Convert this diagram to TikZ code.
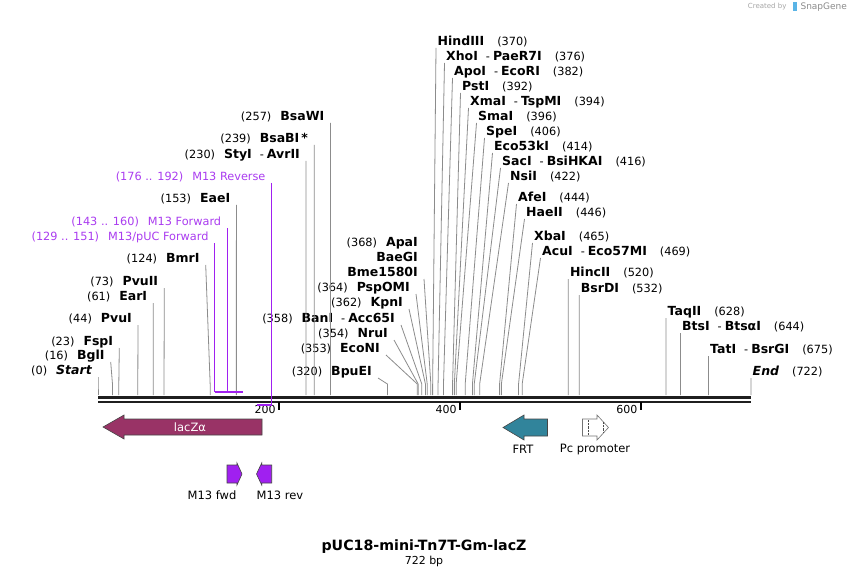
\documentclass[tikz,border=0pt]{standalone}
\usepackage{fontspec}
\setmainfont{DejaVu Sans}

\definecolor{laczFill}{RGB}{153,51,102}
\definecolor{frtFill}{RGB}{49,132,155}
\definecolor{primerFill}{RGB}{160,32,240}
\definecolor{primerText}{RGB}{170,60,240}
\definecolor{cutLine}{RGB}{140,140,140}
\definecolor{featEdge}{RGB}{70,70,70}
\definecolor{logoBlue}{RGB}{90,180,230}

\newcommand{\bpx}[1]{98+#1*0.90443}
\newcommand{\nm}[1]{{\fontsize{12.5}{14}\selectfont\bfseries #1}}
\newcommand{\alsocut}{\hspace{8pt}-\hspace{3pt}}
\newcommand{\lgap}{\hspace{9pt}}
\newcommand{\rgap}{\hspace{13pt}}

\begin{document}
\begin{tikzpicture}[x=1pt, y=-1pt,
  site/.style={font=\fontsize{11.3}{13}\selectfont, text height=9pt, text depth=2pt, inner ysep=0pt},
  lsite/.style={site, anchor=south east, inner xsep=6pt},
  rsite/.style={site, anchor=south west, inner xsep=1.5pt},
  cut/.style={draw=cutLine, line width=0.8pt},
  plab/.style={site, anchor=south east, inner xsep=6pt, text=primerText},
  pline/.style={draw=primerFill, line width=1.5pt},
  feat/.style={draw=featEdge, line width=0.6pt},
  flab/.style={font=\fontsize{11.5}{13}\selectfont},
  tick/.style={line width=2pt},
  scalelbl/.style={font=\fontsize{11}{13}\selectfont, anchor=east, inner sep=1pt}]
\fill[white] (0,0) rectangle (850,577);
\useasboundingbox (0,0) rectangle (850,577);

% backbone and scale
\coordinate (bb0) at ({\bpx{0}},397);
\coordinate (bb1) at ({\bpx{722}},397);
\draw[line width=3pt, black!88] (bb0) -- (bb1);
\draw[line width=2pt, black!88] ([yshift=-4.5pt]bb0) -- ([yshift=-4.5pt]bb1);
\coordinate (t200) at ({\bpx{200}},402);
\coordinate (t400) at ({\bpx{400}},402);
\coordinate (t600) at ({\bpx{600}},402);
\draw[tick] (t200) -- ++(0,8);
\draw[tick] (t400) -- ++(0,8);
\draw[tick] (t600) -- ++(0,8);
\node[scalelbl] (l200) at ([xshift=-2pt,yshift=-7pt]t200) {200};
\node[scalelbl] (l400) at ([xshift=-2pt,yshift=-7pt]t400) {400};
\node[scalelbl] (l600) at ([xshift=-2pt,yshift=-7pt]t600) {600};

% cut sites, labels left of their lines
\node[lsite] (start) at (98,377) {(0)\lgap\nm{\itshape Start}};
\node[lsite] (bgli) at (110.7,362) {(16)\lgap\nm{BglI}};
\node[lsite] (fspi) at (119.3,348) {(23)\lgap\nm{FspI}};
\node[lsite] (pvui) at (138,325) {(44)\lgap\nm{PvuI}};
\node[lsite] (eari) at (153.3,303) {(61)\lgap\nm{EarI}};
\node[lsite] (pvuii) at (164.3,288) {(73)\lgap\nm{PvuII}};
\node[lsite] (bmri) at (205.7,265) {(124)\lgap\nm{BmrI}};
\node[lsite] (eaei) at (236.4,205) {(153)\lgap\nm{EaeI}};
\node[lsite] (styi) at (306,161) {(230)\lgap\nm{StyI}\alsocut\nm{AvrII}};
\node[lsite] (bsabi) at (314.2,145) {(239)\lgap\nm{BsaBI\,*}};
\node[lsite] (bsawi) at (330.4,123) {(257)\lgap\nm{BsaWI}};
\node[lsite] (apai) at (424,249) {(368)\lgap\nm{ApaI}};
\node[lsite] (baegi) at (424,264) {\nm{BaeGI}};
\node[lsite] (bme) at (424,279) {\nm{Bme1580I}};
\node[lsite] (pspomi) at (416,294) {(364)\lgap\nm{PspOMI}};
\node[lsite] (kpni) at (409,309) {(362)\lgap\nm{KpnI}};
\node[lsite] (bani) at (401,325) {(358)\lgap\nm{BanI}\alsocut\nm{Acc65I}};
\node[lsite] (nrui) at (394,340) {(354)\lgap\nm{NruI}};
\node[lsite] (econi) at (386,355) {(353)\lgap\nm{EcoNI}};
\node[lsite] (bpuei) at (378,378) {(320)\lgap\nm{BpuEI}};

% cut sites, labels right of their lines
\node[rsite] (hindiii) at (436,48) {\nm{HindIII}\rgap(370)};
\node[rsite] (xhoi) at (444.5,63) {\nm{XhoI}\alsocut\nm{PaeR7I}\rgap(376)};
\node[rsite] (apoi) at (452.5,78) {\nm{ApoI}\alsocut\nm{EcoRI}\rgap(382)};
\node[rsite] (psti) at (460.5,93) {\nm{PstI}\rgap(392)};
\node[rsite] (xmai) at (468.5,108) {\nm{XmaI}\alsocut\nm{TspMI}\rgap(394)};
\node[rsite] (smai) at (476.5,123) {\nm{SmaI}\rgap(396)};
\node[rsite] (spei) at (484.5,138) {\nm{SpeI}\rgap(406)};
\node[rsite] (eco53ki) at (492.5,153) {\nm{Eco53kI}\rgap(414)};
\node[rsite] (saci) at (500.5,168) {\nm{SacI}\alsocut\nm{BsiHKAI}\rgap(416)};
\node[rsite] (nsii) at (508.5,183) {\nm{NsiI}\rgap(422)};
\node[rsite] (afei) at (516.5,204) {\nm{AfeI}\rgap(444)};
\node[rsite] (haeii) at (524.5,219) {\nm{HaeII}\rgap(446)};
\node[rsite] (xbai) at (532.5,243) {\nm{XbaI}\rgap(465)};
\node[rsite] (acui) at (540.5,258) {\nm{AcuI}\alsocut\nm{Eco57MI}\rgap(469)};
\node[rsite] (hincii) at (568.3,279) {\nm{HincII}\rgap(520)};
\node[rsite] (bsrdi) at (579.2,295) {\nm{BsrDI}\rgap(532)};
\node[rsite] (taqii) at (666,318) {\nm{TaqII}\rgap(628)};
\node[rsite] (btsi) at (680.4,333) {\nm{BtsI}\alsocut\nm{BtsαI}\rgap(644)};
\node[rsite] (tati) at (708.5,356) {\nm{TatI}\alsocut\nm{BsrGI}\rgap(675)};
\node[rsite] (end) at (751,378) {\nm{\itshape End}\rgap(722)};

% site positions on the backbone
\coordinate (s-start) at ({\bpx{0}},395);
\coordinate (s-bgli) at ({\bpx{16}},395);
\coordinate (s-fspi) at ({\bpx{23}},395);
\coordinate (s-pvui) at ({\bpx{44}},395);
\coordinate (s-eari) at ({\bpx{61}},395);
\coordinate (s-pvuii) at ({\bpx{73}},395);
\coordinate (s-bmri) at ({\bpx{124}},395);
\coordinate (s-eaei) at ({\bpx{153}},395);
\coordinate (s-styi) at ({\bpx{230}},395);
\coordinate (s-bsabi) at ({\bpx{239}},395);
\coordinate (s-bsawi) at ({\bpx{257}},395);
\coordinate (s-bpuei) at ({\bpx{320}},395);
\coordinate (s-econi) at ({\bpx{353}},395);
\coordinate (s-nrui) at ({\bpx{354}},395);
\coordinate (s-bani) at ({\bpx{358}},395);
\coordinate (s-kpni) at ({\bpx{362}},395);
\coordinate (s-pspomi) at ({\bpx{364}},395);
\coordinate (s-bme) at ({\bpx{368}},395);
\coordinate (s-hindiii) at ({\bpx{370}},395);
\coordinate (s-xhoi) at ({\bpx{376}},395);
\coordinate (s-apoi) at ({\bpx{382}},395);
\coordinate (s-psti) at ({\bpx{392}},395);
\coordinate (s-xmai) at ({\bpx{394}},395);
\coordinate (s-smai) at ({\bpx{396}},395);
\coordinate (s-spei) at ({\bpx{406}},395);
\coordinate (s-eco53ki) at ({\bpx{414}},395);
\coordinate (s-saci) at ({\bpx{416}},395);
\coordinate (s-nsii) at ({\bpx{422}},395);
\coordinate (s-afei) at ({\bpx{444}},395);
\coordinate (s-haeii) at ({\bpx{446}},395);
\coordinate (s-xbai) at ({\bpx{465}},395);
\coordinate (s-acui) at ({\bpx{469}},395);
\coordinate (s-hincii) at ({\bpx{520}},395);
\coordinate (s-bsrdi) at ({\bpx{532}},395);
\coordinate (s-taqii) at ({\bpx{628}},395);
\coordinate (s-btsi) at ({\bpx{644}},395);
\coordinate (s-tati) at ({\bpx{675}},395);
\coordinate (s-end) at ({\bpx{722}},395);

\draw[cut] (start.south east) -- ([yshift=11pt]s-start) -- (s-start);
\draw[cut] (bgli.south east) -- ([yshift=11pt]s-bgli) -- (s-bgli);
\draw[cut] (fspi.south east) -- ([yshift=11pt]s-fspi) -- (s-fspi);
\draw[cut] (pvui.south east) -- ([yshift=11pt]s-pvui) -- (s-pvui);
\draw[cut] (eari.south east) -- ([yshift=11pt]s-eari) -- (s-eari);
\draw[cut] (pvuii.south east) -- ([yshift=11pt]s-pvuii) -- (s-pvuii);
\draw[cut] (bmri.south east) -- ([yshift=11pt]s-bmri) -- (s-bmri);
\draw[cut] (eaei.south east) -- ([yshift=11pt]s-eaei) -- (s-eaei);
\draw[cut] (styi.south east) -- ([yshift=11pt]s-styi) -- (s-styi);
\draw[cut] (bsabi.south east) -- ([yshift=11pt]s-bsabi) -- (s-bsabi);
\draw[cut] (bsawi.south east) -- ([yshift=11pt]s-bsawi) -- (s-bsawi);
\draw[cut] (bme.south east) -- ([yshift=11pt]s-bme) -- (s-bme);
\draw[cut] (pspomi.south east) -- ([yshift=11pt]s-pspomi) -- (s-pspomi);
\draw[cut] (kpni.south east) -- ([yshift=11pt]s-kpni) -- (s-kpni);
\draw[cut] (bani.south east) -- ([yshift=11pt]s-bani) -- (s-bani);
\draw[cut] (nrui.south east) -- ([yshift=11pt]s-nrui) -- (s-nrui);
\draw[cut] (econi.south east) -- ([yshift=11pt]s-econi) -- (s-econi);
\draw[cut] (bpuei.south east) -- ([yshift=11pt]s-bpuei) -- (s-bpuei);
\draw[cut] (hindiii.south west) -- ([yshift=11pt]s-hindiii) -- (s-hindiii);
\draw[cut] (xhoi.south west) -- ([yshift=11pt]s-xhoi) -- (s-xhoi);
\draw[cut] (apoi.south west) -- ([yshift=11pt]s-apoi) -- (s-apoi);
\draw[cut] (psti.south west) -- ([yshift=11pt]s-psti) -- (s-psti);
\draw[cut] (xmai.south west) -- ([yshift=11pt]s-xmai) -- (s-xmai);
\draw[cut] (smai.south west) -- ([yshift=11pt]s-smai) -- (s-smai);
\draw[cut] (spei.south west) -- ([yshift=11pt]s-spei) -- (s-spei);
\draw[cut] (eco53ki.south west) -- ([yshift=11pt]s-eco53ki) -- (s-eco53ki);
\draw[cut] (saci.south west) -- ([yshift=11pt]s-saci) -- (s-saci);
\draw[cut] (nsii.south west) -- ([yshift=11pt]s-nsii) -- (s-nsii);
\draw[cut] (afei.south west) -- ([yshift=11pt]s-afei) -- (s-afei);
\draw[cut] (haeii.south west) -- ([yshift=11pt]s-haeii) -- (s-haeii);
\draw[cut] (xbai.south west) -- ([yshift=11pt]s-xbai) -- (s-xbai);
\draw[cut] (acui.south west) -- ([yshift=11pt]s-acui) -- (s-acui);
\draw[cut] (hincii.south west) -- ([yshift=11pt]s-hincii) -- (s-hincii);
\draw[cut] (bsrdi.south west) -- ([yshift=11pt]s-bsrdi) -- (s-bsrdi);
\draw[cut] (taqii.south west) -- ([yshift=11pt]s-taqii) -- (s-taqii);
\draw[cut] (btsi.south west) -- ([yshift=11pt]s-btsi) -- (s-btsi);
\draw[cut] (tati.south west) -- ([yshift=11pt]s-tati) -- (s-tati);
\draw[cut] (end.south west) -- ([yshift=11pt]s-end) -- (s-end);

% primers
\node[plab] (pucfwd) at ({\bpx{129}},243) {(129 .. 151)\lgap M13/pUC Forward};
\node[plab] (m13fwd) at ({\bpx{143}},228) {(143 .. 160)\lgap M13 Forward};
\node[plab] (m13rev) at ({\bpx{192}},183) {(176 .. 192)\lgap M13 Reverse};
\coordinate (p-pucfwd) at ({\bpx{129}},392);
\coordinate (p-m13fwd) at ({\bpx{143}},392);
\coordinate (p-fwdend) at ({\bpx{160}},392);
\coordinate (p-m13rev) at ({\bpx{192}},405);
\coordinate (p-revend) at ({\bpx{176}},405);
\draw[pline] (pucfwd.south east) -- (p-pucfwd);
\draw[pline] (m13fwd.south east) -- (p-m13fwd);
\draw[pline] (p-pucfwd) -- (p-fwdend);
\draw[pline] (m13rev.south east) -- (p-m13rev) -- (p-revend);

% features
\draw[feat, fill=laczFill] (103,427) -- (124,415) -- (124,419) -- (262,419) -- (262,435) -- (124,435) -- (124,439) -- cycle;
\node[flab, text=white] (lacz) at (190,427) {lacZα};
\draw[feat, fill=frtFill] (503,427.5) -- (524,415) -- (524,419) -- (547.5,419) -- (547.5,436) -- (524,436) -- (524,440) -- cycle;
\node[flab] (frt) at (523,449) {FRT};
\draw[feat, draw=black!55, fill=white] (582.5,419) -- (597,419) -- (597,415) -- (608.5,427.5) -- (597,440) -- (597,436) -- (582.5,436) -- cycle;
\draw[black!70, densely dotted] (588,420) -- (588,435);
\draw[black!70, densely dotted] (603.5,422) -- (603.5,433);
\node[flab] (pc) at (595,449) {Pc promoter};
\draw[feat, fill=primerFill] (227,465) -- (237,465) -- (237,463) -- (242,474) -- (237,485) -- (237,483) -- (227,483) -- cycle;
\draw[feat, fill=primerFill] (271.7,465) -- (261.7,465) -- (261.7,463) -- (256.5,474) -- (261.7,485) -- (261.7,483) -- (271.7,483) -- cycle;
\node[flab] (fwd) at (212,495) {M13 fwd};
\node[flab] (rev) at (280,495) {M13 rev};

% title
\node[font=\fontsize{14.2}{16}\selectfont\bfseries] (title) at (424,546.5) {pUC18-mini-Tn7T-Gm-lacZ};
\node[font=\fontsize{11}{12}\selectfont] (size) at (424,561.5) {722 bp};
\node[font=\fontsize{7}{8}\selectfont, text=black!35, anchor=east] (made) at (790,7) {Created by};
\fill[logoBlue] (793,2.5) rectangle (796.5,11.5);
\node[font=\fontsize{9}{10}\selectfont, text=black!45, anchor=west] (sg) at (797,7) {SnapGene};
\end{tikzpicture}
\end{document}
